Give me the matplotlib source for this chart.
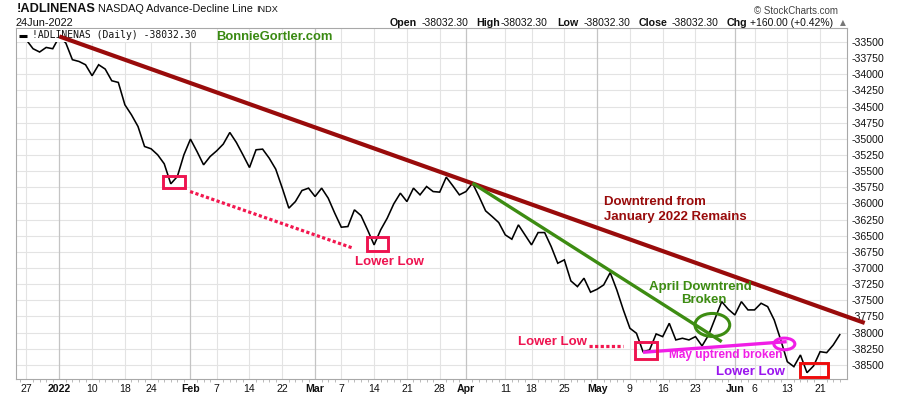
import numpy as np
import pandas as pd
import matplotlib
matplotlib.use("Agg")
import matplotlib.pyplot as plt
from matplotlib.patches import Rectangle, Ellipse

plt.rcParams['font.family'] = ['Liberation Sans', 'DejaVu Sans']

# ---------------- data ----------------
holidays = ['2021-12-24', '2022-01-17', '2022-02-21', '2022-04-15', '2022-05-30', '2022-06-20']
dates = [d for d in pd.bdate_range('2021-12-22', '2022-06-24').strftime('%Y-%m-%d') if d not in holidays]

values = [
    # Dec 2021
    -33480, -33450, -33470, -33604, -33655, -33584, -33604,
    # Jan 2022
    -33418, -33516, -33774, -33801, -33852, -34022, -33852, -33919, -34100, -34126,
    -34472, -34627, -34808, -35118, -35154, -35247, -35386, -35696, -35583, -35247,
    # Feb
    -35004, -35196, -35402, -35273, -35185, -35081, -34901, -35056, -35247, -35444,
    -35169, -35159, -35298, -35469, -35763, -36073, -35971, -35800, -35763,
    # Mar
    -35893, -35763, -35918, -36151, -36368, -36358, -36099, -36188, -36409, -36642,
    -36409, -36228, -36006, -35841, -35971, -35763, -35867, -35738, -35816, -35825,
    -35593, -35727, -35867,
    # Apr
    -35816, -35686, -35893, -36115, -36203, -36296, -36487, -36554, -36332, -36487,
    -36642, -36451, -36451, -36668, -36926, -36874, -37200, -37288, -37158, -37375,
    # May
    -37329, -37262, -37071, -37339, -37649, -37933, -38011, -38296, -38269, -38021,
    -38063, -37856, -38114, -38088, -38114, -38063, -38207, -38037, -37778, -37521,
    -37639,
    # Jun
    -37727, -37521, -37649, -37649, -37546, -37598, -37804, -38114, -38451, -38528,
    -38347, -38621, -38517, -38296, -38311, -38192, -38032.30,
]

tick_dates = ['2021-12-27', '2022-01-03', '2022-01-10', '2022-01-18', '2022-01-24',
              '2022-02-01', '2022-02-07', '2022-02-14', '2022-02-22', '2022-03-01',
              '2022-03-07', '2022-03-14', '2022-03-21', '2022-03-28', '2022-04-01',
              '2022-04-11', '2022-04-18', '2022-04-25', '2022-05-02', '2022-05-09',
              '2022-05-16', '2022-05-23', '2022-06-01', '2022-06-06', '2022-06-13',
              '2022-06-21']
tick_labels = ['27', '2022', '10', '18', '24', 'Feb', '7', '14', '22', 'Mar', '7', '14',
               '21', '28', 'Apr', '11', '18', '25', 'May', '9', '16', '23', 'Jun', '6',
               '13', '21']
bold_labels = ['2022', 'Feb', 'Mar', 'Apr', 'May', 'Jun']
y_ticks = list(range(-38500, -33499, 250))

# annotations (x = trading-day index from 3 Jan 2022, y = indicator value)
jan_trend_x = [0.0, 122.8]
jan_trend_y = [-33413, -37851]
apr_trend_x = [63.0, 101.0]
apr_trend_y = [-35686, -38141]
may_trend_x = [89.0, 110.9]
may_trend_y = [-38305, -38141]
dots1_x = [19.95, 44.8]
dots1_y = [-35816, -36693]
dots2_x = [80.7, 85.9]
dots2_y = [-38203, -38203]
pink_boxes = [(15.85, -35763, 3.31, 191), (46.86, -36730, 3.29, 207), (87.76, -38414, 3.31, 273)]
red_boxes = [(112.9, -38693, 4.3, 217)]

# ---------------- figure ----------------
W, H = 900, 396
fig = plt.figure(figsize=(W / 100, H / 100), dpi=100)
fig.patch.set_facecolor('white')

def fx(px):
    return px / W

def fy(py):
    return 1 - py / H

AX_L, AX_R, AX_T, AX_B = 16, 847, 28, 379
ax = fig.add_axes([fx(AX_L), fy(AX_B), (AX_R - AX_L) / W, (AX_B - AX_T) / H])

def axx(px):
    return (px - AX_L) / (AX_R - AX_L)

def axy(py):
    return (AX_B - py) / (AX_B - AX_T)

base = dates.index('2022-01-03')
x = np.arange(len(dates)) - base
tick_x = [dates.index(d) - base for d in tick_dates]

ax.set_xlim(-6.6, 120.1)
ax.set_ylim(-38719, -33283)

# grid
for v in y_ticks:
    ax.axhline(v, color='#e3e3e3', lw=0.8, zorder=0)
for tx, lab in zip(tick_x, tick_labels):
    c = '#c4c4c4' if lab in bold_labels else '#e3e3e3'
    ax.axvline(tx, color=c, lw=0.9 if lab in bold_labels else 0.8, zorder=0)

ax.plot(x, values, color='black', lw=1.15, zorder=2, solid_joinstyle='miter')

for s in ax.spines.values():
    s.set_color('#a8a8a8')
    s.set_linewidth(0.8)

ax.set_xticks(tick_x)
ax.set_xticklabels(tick_labels)
for t in ax.get_xticklabels():
    t.set_fontsize(7.6)
    t.set_color('#111111')
    if t.get_text() in bold_labels:
        t.set_fontweight('bold')
ax.set_xticks(np.arange(-6, 120), minor=True)
ax.tick_params(axis='x', which='major', length=0, pad=3.5)
ax.tick_params(axis='x', which='minor', length=2, color='#b0b0b0', width=0.6)

ax.yaxis.tick_right()
ax.set_yticks(y_ticks)
ax.set_yticklabels([str(v) for v in y_ticks])
ax.tick_params(axis='y', which='major', length=0, pad=3, labelsize=7.6, labelcolor='#111111')

# legend-like label inside the plot
ax.add_patch(Rectangle((axx(17), axy(42)), axx(200) - axx(17), axy(29) - axy(42),
                       transform=ax.transAxes, facecolor='white', edgecolor='none', zorder=3))
ax.text(axx(32), axy(35.5), '!ADLINENAS (Daily) -38032.30', transform=ax.transAxes,
        fontsize=7.05, family='DejaVu Sans Mono', va='center', ha='left', color='#111111',
        zorder=3.5)
ax.plot([axx(19.3), axx(26.7)], [axy(35.5), axy(35.5)], transform=ax.transAxes,
        color='black', lw=2.2, zorder=3.5, solid_capstyle='butt')

# trend lines
ax.plot(jan_trend_x, jan_trend_y, color='#990b0b', lw=3.0, zorder=4, clip_on=False,
        solid_capstyle='butt')
ax.plot(apr_trend_x, apr_trend_y, color='#3d8c12', lw=2.4, zorder=4, solid_capstyle='butt')
ax.plot(may_trend_x, may_trend_y, color='#f01ee6', lw=2.4, zorder=4, solid_capstyle='butt')
ax.add_patch(Ellipse((99.57, -37882), 5.3, 356, fill=False, edgecolor='#3d8c12', lw=2.2, zorder=4))
ax.add_patch(Ellipse((110.55, -38176), 3.2, 181, fill=False, edgecolor='#f01ee6', lw=2.2, zorder=4))

ax.plot(dots1_x, dots1_y, color='#f2174f', lw=2.3, linestyle=(0, (1.0, 0.75)),
        dash_capstyle='butt', zorder=4)
ax.plot(dots2_x, dots2_y, color='#f2174f', lw=2.3, linestyle=(0, (1.0, 0.75)),
        dash_capstyle='butt', zorder=4)

for (bx, by, bw, bh) in pink_boxes:
    ax.add_patch(Rectangle((bx, by), bw, bh, fill=False, edgecolor='#ee1450', lw=2.1, zorder=4))
for (bx, by, bw, bh) in red_boxes:
    ax.add_patch(Rectangle((bx, by), bw, bh, fill=False, edgecolor='#ee0a0a', lw=2.1, zorder=4))

# annotation text
pink = '#ee1450'
ax.text(50.4, -36913, 'Lower Low', color=pink, fontsize=9.5, fontweight='bold', ha='center', va='center', zorder=5)
ax.text(75.2, -38153, 'Lower Low', color=pink, fontsize=9.5, fontweight='bold', ha='center', va='center', zorder=5)
ax.text(105.4, -38618, 'Lower Low', color='#9a16ee', fontsize=9.5, fontweight='bold', ha='center', va='center', zorder=5)
ax.text(83.0, -35971, 'Downtrend from', color='#990b0b', fontsize=9.5, fontweight='bold', ha='left', va='center', zorder=5)
ax.text(83.0, -36203, 'January 2022 Remains', color='#990b0b', fontsize=9.5, fontweight='bold', ha='left', va='center', zorder=5)
ax.text(97.8, -37288, 'April Downtrend', color='#3d8c12', fontsize=9.5, fontweight='bold', ha='center', va='center', zorder=5)
ax.text(98.3, -37495, 'Broken', color='#3d8c12', fontsize=9.5, fontweight='bold', ha='center', va='center', zorder=5)
ax.text(101.6, -38342, 'May uptrend broken', color='#f01ee6', fontsize=8.6, fontweight='bold', ha='center', va='center', zorder=5)
ax.text(fx(216.5), fy(37.5), 'BonnieGortler.com', transform=fig.transFigure, color='#3a8a12',
        fontsize=9.4, fontweight='bold', ha='left', va='center', zorder=5)

# header
fig.text(fx(16.5), fy(9.3), '!ADLINENAS', fontsize=9.2, fontweight='bold', va='center', ha='left', color='#111111')
fig.text(fx(97.5), fy(9.5), 'NASDAQ Advance-Decline Line', fontsize=7.8, va='center', ha='left', color='#111111')
fig.text(fx(256.5), fy(9.8), 'INDX', fontsize=6.6, va='center', ha='left', color='#111111')
fig.text(fx(16), fy(22.8), '24Jun-2022', fontsize=7.9, va='center', ha='left', color='#111111')
fig.text(fx(838), fy(10.6), '\u00a9 StockCharts.com', fontsize=7.0, va='center', ha='right', color='#444444')

row_y = fy(22.8)
pieces = [(390, 'Open', True), (422, '-38032.30', False), (476.7, 'High', True),
          (500.7, '-38032.30', False), (557.3, 'Low', True), (584, '-38032.30', False),
          (638.3, 'Close', True), (671.7, '-38032.30', False), (726.7, 'Chg', True),
          (750, '+160.00 (+0.42%)', False)]
for px, txt, b in pieces:
    fig.text(fx(px), row_y, txt, fontsize=7.7 if b else 7.5, fontweight='bold' if b else 'normal',
             va='center', ha='left', color='#111111')
fig.text(fx(839.5), fy(22.3), '\u25b2', fontsize=5.5, va='center', ha='left', color='#777777',
         family='DejaVu Sans')

fig.savefig('out.png', dpi=100, facecolor='white')
